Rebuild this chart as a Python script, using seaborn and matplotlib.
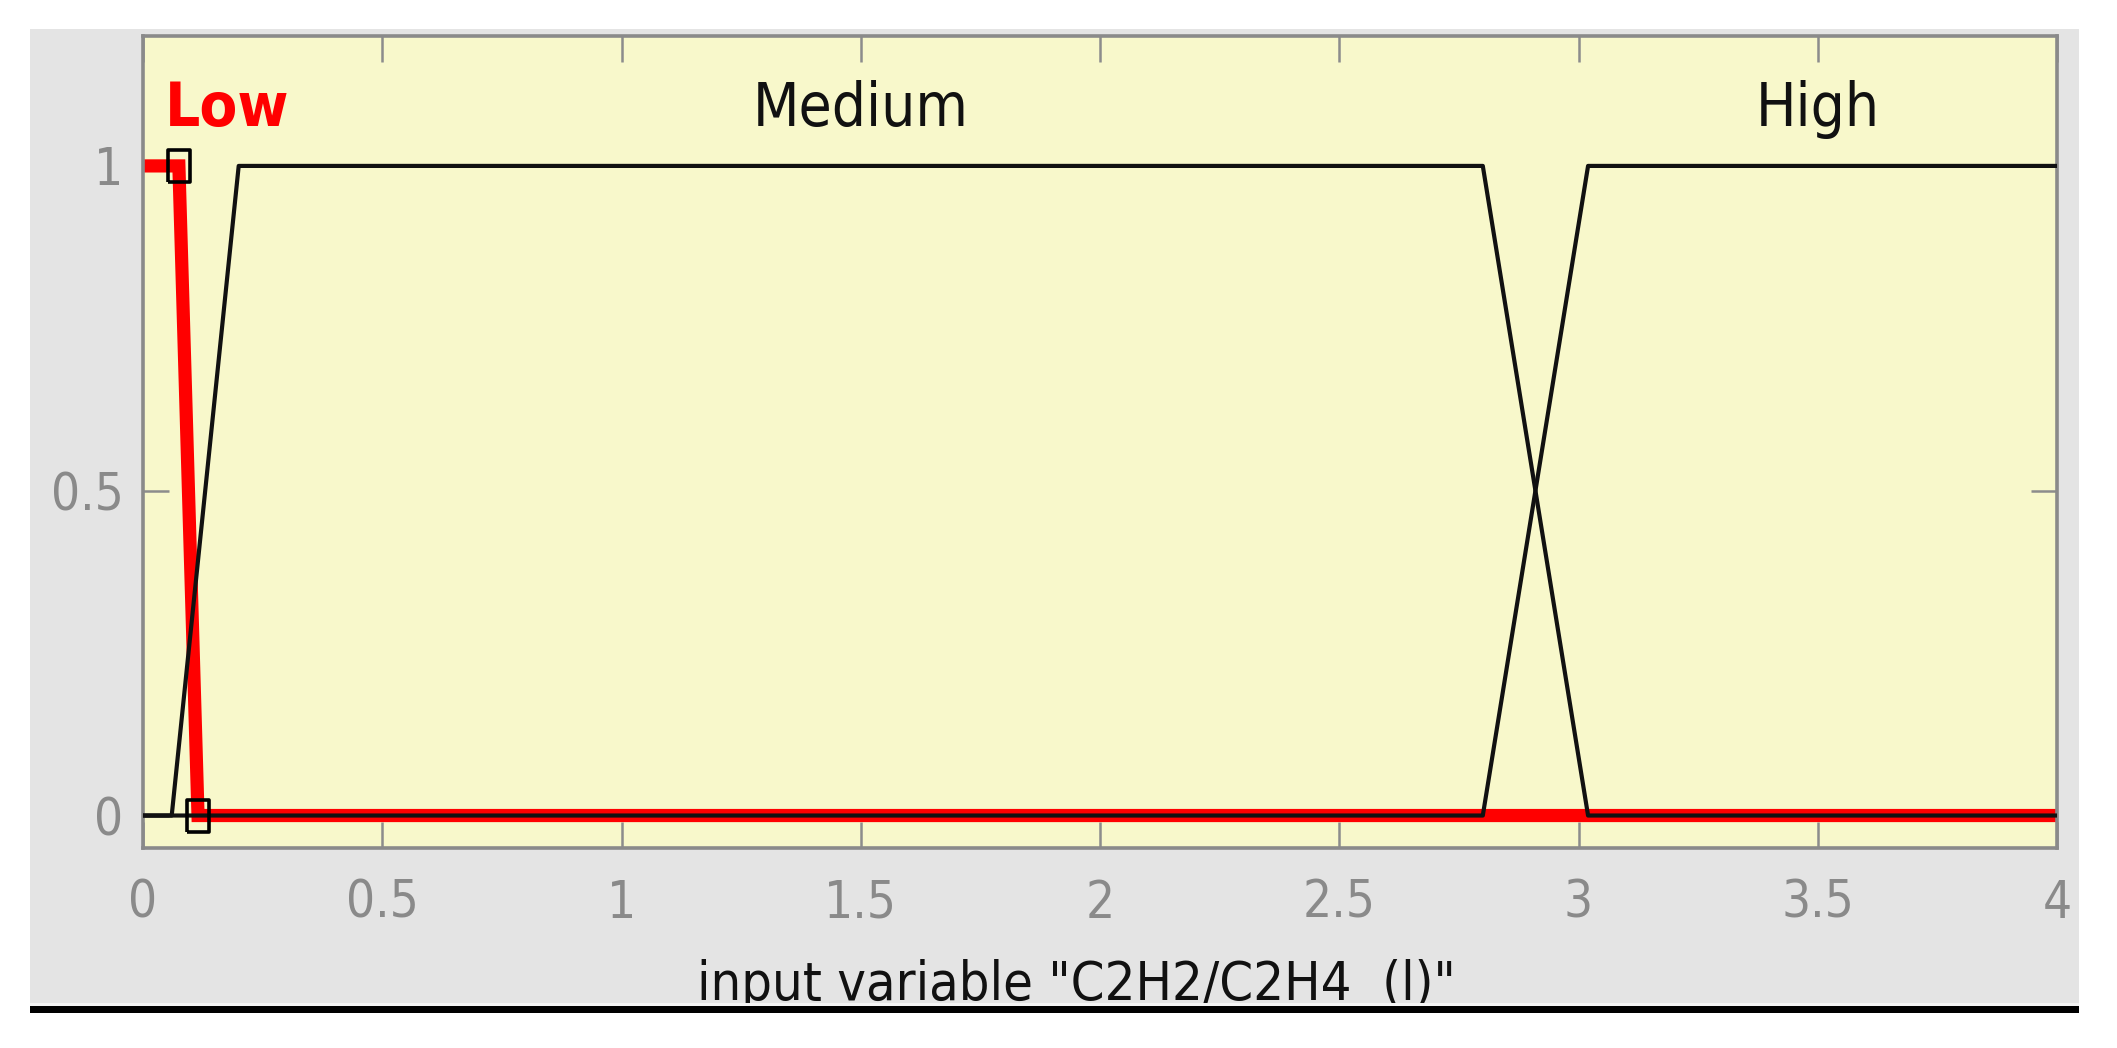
import numpy as np
import pandas as pd
import matplotlib
matplotlib.use("Agg")
import matplotlib.pyplot as plt
import matplotlib.font_manager as fm
from matplotlib.patches import Rectangle
import seaborn as sns

# ---------------- data ----------------
x_ticks = [0, 0.5, 1, 1.5, 2, 2.5, 3, 3.5, 4]
x_tick_labels = ["0", "0.5", "1", "1.5", "2", "2.5", "3", "3.5", "4"]
y_ticks = [0, 0.5, 1]
y_tick_labels = ["0", "0.5", "1"]

mf_names = ["Low", "Medium", "High"]
low_x = [0.0, 0.075, 0.115, 4.0]
low_y = [1, 1, 0, 0]
medium_x = [0.0, 0.06, 0.20, 2.80, 3.02, 4.0]
medium_y = [0, 0, 1, 1, 0, 0]
high_x = [0.0, 2.80, 3.02, 4.0]
high_y = [0, 0, 1, 1]
low_handles_x = [0.075, 0.115]
low_handles_y = [1, 0]
label_x = [0.046, 1.5, 3.5]
label_y = [1.062, 1.062, 1.062]
x_label = 'input variable "C2H2/C2H4  (l)"'

# ---------------- style ----------------
sns.set_theme(style="white")
cond = any(f.name == "DejaVu Sans" and str(f.stretch) == "condensed"
           for f in fm.fontManager.ttflist)
plt.rcParams["font.family"] = ["DejaVu Sans"]
stretch = "condensed" if cond else "normal"
k = 1.08 if cond else 1.0
fs_tick, fs_xlabel, fs_mf, fs_low = 34 * k, 36 * k, 40 * k, 41 * k

W, H = 2117, 1048
fig = plt.figure(figsize=(W / 100, H / 100), dpi=100, facecolor="white")
fig.patches.append(Rectangle((30 / W, 1 - 1003 / H), (2079 - 30) / W, (1003 - 29) / H,
                             transform=fig.transFigure, facecolor="#e4e4e4",
                             edgecolor="none", zorder=-5))
fig.patches.append(Rectangle((30 / W, 1 - 1006 / H), (2079 - 30) / W, 3 / H,
                             transform=fig.transFigure, facecolor="#f4f4f4",
                             edgecolor="none", zorder=5))
fig.patches.append(Rectangle((30 / W, 1 - 1013 / H), (2079 - 30) / W, 7 / H,
                             transform=fig.transFigure, facecolor="black",
                             edgecolor="none", zorder=5))

ax = fig.add_axes([143 / W, 1 - 848 / H, (2057 - 143) / W, (848 - 36) / H])
ax.set_facecolor("#f8f8cb")

df_low = pd.DataFrame({"x": low_x, "y": low_y})
df_med = pd.DataFrame({"x": medium_x, "y": medium_y})
df_high = pd.DataFrame({"x": high_x, "y": high_y})

sns.lineplot(data=df_low, x="x", y="y", sort=False, ax=ax, color="#ff0000",
             lw=9.5, solid_joinstyle="miter", zorder=2)
sns.lineplot(data=df_med, x="x", y="y", sort=False, ax=ax, color="#111111",
             lw=3.0, zorder=3)
sns.lineplot(data=df_high, x="x", y="y", sort=False, ax=ax, color="#111111",
             lw=3.0, zorder=3)

rect_marker = [(-0.33, -0.5), (0.33, -0.5), (0.33, 0.5), (-0.33, 0.5), (-0.33, -0.5)]
ax.plot(low_handles_x, low_handles_y, ls="none", marker=rect_marker, ms=23,
        mfc="none", mec="black", mew=2.6, zorder=4)

colors = ["#ff0000", "#111111", "#111111"]
weights = ["bold", "normal", "normal"]
sizes = [fs_low, fs_mf, fs_mf]
has = ["left", "center", "center"]
for name, lx, ly, c, w, s, h in zip(mf_names, label_x, label_y, colors, weights, sizes, has):
    ax.text(lx, ly, name, color=c, fontweight=w, fontsize=s, ha=h, va="baseline",
            fontstretch=stretch, zorder=5)

ax.set_xlim(0, 4)
ax.set_ylim(-0.05, 1.2)
ax.set_xticks(x_ticks)
ax.set_xticklabels(x_tick_labels, fontstretch=stretch)
ax.set_yticks(y_ticks)
ax.set_yticklabels(y_tick_labels, fontstretch=stretch)
ax.tick_params(axis="both", direction="in", length=19, width=1.8, color="#8c8c8c",
               labelcolor="#8a8a8a", labelsize=fs_tick,
               top=True, right=True, bottom=True, left=True)
ax.tick_params(axis="x", pad=22)
ax.tick_params(axis="y", pad=14)
for sp in ax.spines.values():
    sp.set_visible(True)
    sp.set_color("#8a8a8a")
    sp.set_linewidth(2.6)

ax.set_xlabel(x_label, fontsize=fs_xlabel, color="#111111", fontstretch=stretch)
ax.set_ylabel("")
ax.xaxis.set_label_coords((1076 - 143) / (2057 - 143), -(1000 - 848) / (848 - 36))
ax.xaxis.label.set_va("baseline")

fig.savefig("out.png", dpi=100, facecolor="white")
